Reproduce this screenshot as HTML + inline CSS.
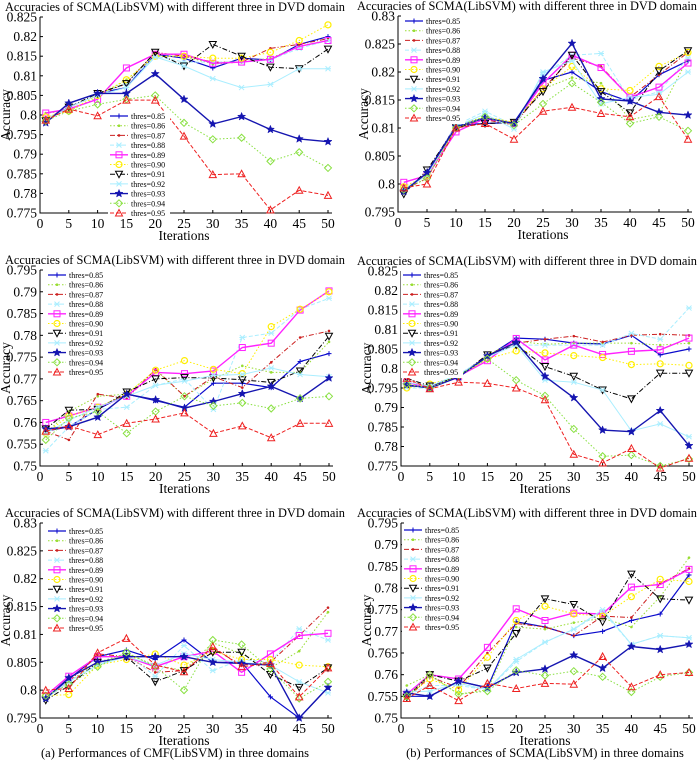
<!DOCTYPE html>
<html><head><meta charset="utf-8"><style>
html,body{margin:0;padding:0;background:#fff;}
svg{display:block;font-family:"Liberation Serif",serif;}
</style></head><body>
<svg id="fig" width="700" height="764" viewBox="0 0 700 764" xmlns="http://www.w3.org/2000/svg">
<text x="175" y="757" text-anchor="middle" font-size="12.5">(a) Performances of CMF(LibSVM) in three domains</text>
<text x="545" y="757" text-anchor="middle" font-size="12.5">(b) Performances of SCMA(LibSVM) in three domains</text>
</svg>
<script>
const iterations = [1,5,10,15,20,25,30,35,40,45,50];
const seriesNames = ["thres=0.85","thres=0.86","thres=0.87","thres=0.88","thres=0.89","thres=0.90","thres=0.91","thres=0.92","thres=0.93","thres=0.94","thres=0.95"];
const xTicks = [0,5,10,15,20,25,30,35,40,45,50];
const ticksA = [0.775,0.78,0.785,0.79,0.795,0.8,0.805,0.81,0.815,0.82,0.825];
const ticksB = [0.795,0.8,0.805,0.81,0.815,0.82,0.825,0.83];
const ticksC = [0.75,0.755,0.76,0.765,0.77,0.775,0.78,0.785,0.79,0.795];
const ticksD = [0.775,0.78,0.785,0.79,0.795,0.8,0.805,0.81,0.815,0.82,0.825];
const ticksE = [0.795,0.8,0.805,0.81,0.815,0.82,0.825,0.83];
const ticksF = [0.75,0.755,0.76,0.765,0.77,0.775,0.78,0.785,0.79,0.795];
const valuesA = [
[0.798,0.803,0.8055,0.807,0.8155,0.8145,0.812,0.8145,0.814,0.818,0.820],
[0.8005,0.801,0.8045,0.809,0.815,0.815,0.813,0.8135,0.8145,0.8175,0.819],
[0.799,0.802,0.805,0.808,0.816,0.815,0.8135,0.8135,0.817,0.818,0.8195],
[0.799,0.802,0.805,0.808,0.815,0.8135,0.8135,0.8135,0.814,0.817,0.819],
[0.8005,0.8015,0.804,0.812,0.8155,0.8155,0.8132,0.8135,0.8142,0.8175,0.819],
[0.7995,0.801,0.805,0.809,0.815,0.815,0.8145,0.8145,0.816,0.819,0.823],
[0.7985,0.802,0.8055,0.808,0.816,0.8125,0.818,0.815,0.8122,0.8118,0.8168],
[0.7985,0.802,0.805,0.807,0.8148,0.8125,0.8093,0.807,0.8078,0.8118,0.8118],
[0.798,0.803,0.8055,0.8055,0.8105,0.804,0.7977,0.7996,0.7963,0.7939,0.7932],
[0.7985,0.801,0.8027,0.804,0.805,0.798,0.7938,0.7942,0.7882,0.7905,0.7865],
[0.7987,0.8015,0.7998,0.8038,0.8038,0.7946,0.7848,0.785,0.7758,0.7808,0.7795]];
const valuesB = [
[0.7985,0.802,0.8105,0.8108,0.811,0.8185,0.820,0.8165,0.8147,0.8195,0.822],
[0.799,0.8015,0.8105,0.812,0.811,0.817,0.819,0.818,0.8115,0.8125,0.8225],
[0.799,0.801,0.810,0.8115,0.8105,0.817,0.8225,0.821,0.8155,0.8195,0.8235],
[0.799,0.802,0.8105,0.813,0.8105,0.8195,0.823,0.8233,0.815,0.8165,0.8225],
[0.8003,0.8015,0.8093,0.8117,0.8108,0.818,0.823,0.8208,0.8155,0.8173,0.8216],
[0.7995,0.8015,0.810,0.812,0.811,0.817,0.821,0.817,0.8167,0.821,0.8235],
[0.7982,0.8025,0.8102,0.8108,0.811,0.8165,0.823,0.8165,0.8127,0.8202,0.8238],
[0.799,0.8015,0.8103,0.8125,0.8098,0.820,0.822,0.8143,0.8155,0.816,0.820],
[0.7987,0.802,0.8102,0.8118,0.8108,0.8188,0.8251,0.8152,0.8148,0.8128,0.8123],
[0.799,0.801,0.810,0.812,0.8105,0.8143,0.818,0.8146,0.8108,0.812,0.8095],
[0.7993,0.800,0.810,0.8108,0.808,0.813,0.8137,0.8126,0.812,0.8156,0.808]];
const valuesC = [
[0.758,0.759,0.763,0.7665,0.765,0.7635,0.769,0.769,0.768,0.774,0.7758],
[0.7575,0.7625,0.766,0.7665,0.772,0.766,0.770,0.773,0.7715,0.7715,0.7785],
[0.758,0.756,0.7665,0.7655,0.7722,0.766,0.7705,0.768,0.7738,0.7795,0.781],
[0.7535,0.759,0.763,0.7635,0.7685,0.770,0.763,0.7795,0.7805,0.786,0.7885],
[0.760,0.7615,0.7635,0.766,0.7715,0.7712,0.7718,0.7772,0.7782,0.7858,0.7902],
[0.7575,0.7615,0.7635,0.7665,0.772,0.7742,0.7722,0.7712,0.782,0.786,0.790],
[0.7585,0.7628,0.763,0.767,0.770,0.7703,0.7702,0.7698,0.7692,0.7718,0.7798],
[0.7575,0.7605,0.7635,0.766,0.7685,0.7695,0.7708,0.771,0.7725,0.771,0.7705],
[0.7585,0.759,0.7612,0.7665,0.7652,0.7633,0.7648,0.7666,0.7683,0.7655,0.7702],
[0.756,0.761,0.7625,0.7575,0.7625,0.766,0.7638,0.7645,0.7632,0.7655,0.766],
[0.758,0.7592,0.7572,0.7598,0.7608,0.7622,0.7575,0.7592,0.7565,0.7598,0.7598]];
const valuesD = [
[0.7955,0.7955,0.7978,0.803,0.8078,0.8075,0.8065,0.8063,0.8085,0.8035,0.805],
[0.7965,0.795,0.798,0.8035,0.807,0.8062,0.8065,0.8065,0.8065,0.806,0.8065],
[0.797,0.795,0.798,0.8035,0.8065,0.8075,0.8083,0.8068,0.8085,0.8088,0.8085],
[0.795,0.795,0.7985,0.803,0.806,0.806,0.806,0.806,0.809,0.8075,0.8155],
[0.7965,0.795,0.798,0.802,0.8077,0.8022,0.806,0.8036,0.8044,0.8048,0.8078],
[0.795,0.796,0.798,0.8025,0.8045,0.804,0.8033,0.8028,0.801,0.8012,0.8008],
[0.7975,0.7955,0.798,0.8035,0.806,0.8005,0.798,0.7945,0.7922,0.7988,0.7988],
[0.7965,0.7955,0.7985,0.803,0.806,0.797,0.7965,0.7945,0.784,0.7858,0.7825],
[0.7958,0.795,0.7978,0.8032,0.8067,0.798,0.7925,0.7842,0.7838,0.7892,0.7802],
[0.796,0.795,0.7982,0.8025,0.797,0.793,0.7845,0.7775,0.7778,0.775,0.7768],
[0.7975,0.7948,0.7965,0.7962,0.795,0.792,0.778,0.7758,0.7795,0.7745,0.777]];
const valuesE = [
[0.7985,0.802,0.806,0.8072,0.8055,0.809,0.805,0.805,0.7988,0.795,0.8005],
[0.7985,0.8015,0.805,0.8065,0.8045,0.8035,0.8085,0.8065,0.804,0.807,0.814],
[0.7985,0.8015,0.8065,0.806,0.8032,0.8035,0.8075,0.8045,0.805,0.8098,0.8148],
[0.7985,0.8015,0.8045,0.8065,0.8025,0.808,0.8035,0.8055,0.805,0.811,0.809],
[0.799,0.8025,0.806,0.806,0.8042,0.806,0.807,0.8032,0.8065,0.8098,0.8102],
[0.799,0.7992,0.8045,0.8055,0.8065,0.8045,0.807,0.8055,0.8055,0.8045,0.8042],
[0.7982,0.8008,0.805,0.806,0.8015,0.8035,0.8068,0.8068,0.8028,0.8005,0.804],
[0.7985,0.8015,0.8045,0.806,0.8045,0.8065,0.8055,0.805,0.8045,0.8015,0.7995],
[0.7985,0.8022,0.805,0.806,0.806,0.806,0.805,0.8048,0.8045,0.795,0.8005],
[0.799,0.801,0.8042,0.8068,0.8042,0.800,0.809,0.8082,0.8038,0.7985,0.8015],
[0.800,0.8003,0.8067,0.8093,0.8045,0.8033,0.8078,0.8042,0.8048,0.7988,0.804]];
const valuesF = [
[0.755,0.755,0.7585,0.757,0.7722,0.771,0.769,0.770,0.7725,0.774,0.783],
[0.7575,0.760,0.7555,0.7565,0.771,0.7705,0.772,0.773,0.771,0.778,0.787],
[0.7545,0.7595,0.757,0.765,0.7718,0.771,0.769,0.7735,0.7732,0.781,0.7845],
[0.7555,0.7575,0.7575,0.7565,0.763,0.7675,0.7705,0.7745,0.767,0.769,0.7685],
[0.7555,0.760,0.759,0.7663,0.7752,0.7725,0.7742,0.774,0.7802,0.7808,0.7843],
[0.755,0.759,0.7565,0.764,0.7725,0.7758,0.774,0.7735,0.778,0.782,0.7815],
[0.7548,0.760,0.7585,0.7615,0.7695,0.7775,0.7762,0.7722,0.7832,0.7775,0.7772],
[0.756,0.7562,0.758,0.7565,0.7635,0.7675,0.7705,0.775,0.767,0.769,0.7685],
[0.7558,0.755,0.7585,0.757,0.7605,0.7613,0.7645,0.7615,0.7665,0.7658,0.767],
[0.755,0.760,0.7555,0.7562,0.761,0.7598,0.7608,0.7595,0.756,0.7595,0.7605],
[0.7545,0.7575,0.754,0.758,0.7568,0.758,0.7578,0.7642,0.7572,0.760,0.7605]];

const NS="http://www.w3.org/2000/svg";
const svg=document.getElementById('fig');
const styles=[
 {c:"#0a0acc",d:"",w:1.2,m:"plus"},
 {c:"#99dd33",d:"1.5,2",w:1,m:"dot"},
 {c:"#cc2020",d:"5,2,1,2",w:1,m:"dot"},
 {c:"#aaeeff",d:"4,2",w:1,m:"x"},
 {c:"#ff22ff",d:"",w:1.4,m:"square"},
 {c:"#ffee00",d:"1.5,2",w:1,m:"circle"},
 {c:"#000000",d:"5,2,1,2",w:1,m:"tdown"},
 {c:"#aaeeff",d:"",w:1,m:"x"},
 {c:"#1515b0",d:"",w:1.4,m:"star"},
 {c:"#88e040",d:"1.5,2",w:1,m:"diamond"},
 {c:"#ee2020",d:"4,2",w:1,m:"tup"}];
function el(tag,attrs,parent){const e=document.createElementNS(NS,tag);for(const k in attrs)e.setAttribute(k,attrs[k]);(parent||svg).appendChild(e);return e;}
function marker(g,type,x,y,c){
 let e;
 if(type==="square")e=el('rect',{x:x-3,y:y-3,width:6,height:6,fill:"none",stroke:c,"stroke-width":1},g);
 else if(type==="circle")e=el('circle',{cx:x,cy:y,r:3,fill:"none",stroke:c,"stroke-width":1.2},g);
 else if(type==="diamond")e=el('polygon',{points:`${x},${y-3.5} ${x+3.5},${y} ${x},${y+3.5} ${x-3.5},${y}`,fill:"none",stroke:c,"stroke-width":1},g);
 else if(type==="tdown")e=el('polygon',{points:`${x-3.5},${y-3} ${x+3.5},${y-3} ${x},${y+3.5}`,fill:"none",stroke:c,"stroke-width":1},g);
 else if(type==="tup")e=el('polygon',{points:`${x-3.5},${y+3} ${x+3.5},${y+3} ${x},${y-3.5}`,fill:"none",stroke:c,"stroke-width":1},g);
 else if(type==="plus")e=el('path',{d:`M${x-2.5},${y}H${x+2.5}M${x},${y-2.5}V${y+2.5}`,stroke:c,"stroke-width":1},g);
 else if(type==="x")e=el('path',{d:`M${x-2.5},${y-2.5}L${x+2.5},${y+2.5}M${x-2.5},${y+2.5}L${x+2.5},${y-2.5}M${x-3},${y}H${x+3}`,stroke:c,"stroke-width":1},g);
 else if(type==="star"){let p=[];for(let i=0;i<10;i++){const r=i%2?1.8:4.2,a=-Math.PI/2+i*Math.PI/5;p.push((x+r*Math.cos(a)).toFixed(1)+","+(y+r*Math.sin(a)).toFixed(1));}e=el('polygon',{points:p.join(' '),fill:c,stroke:c,"stroke-width":0.5},g);}
 else e=el('circle',{cx:x,cy:y,r:1.3,fill:c},g);
 
 
}
function panel(id,L,R,T,B,ticks,values,leg,tx0){
 const ymin=ticks[0],ymax=ticks[ticks.length-1];
 const xs=v=>L+(v/50)*(R-L);
 const ys=v=>B-(v-ymin)/(ymax-ymin)*(B-T);
 const g=el('g',{});
 
 
 const t=el('text',{x:tx0,y:T-6,"font-size":"12.5",textLength:"340",lengthAdjust:"spacingAndGlyphs"},g);t.textContent="Accuracies of SCMA(LibSVM) with different three in DVD domain";
 
 
 const ax=el('path',{d:`M${L},${T}V${B}H${R+4}`,fill:"none",stroke:"#000","stroke-width":1},g);
 
 
 xTicks.forEach(v=>{const x=xs(v);el('line',{x1:x,x2:x,y1:B,y2:B-3,stroke:"#000"},g);
  const tx=el('text',{x:x,y:B+15,"text-anchor":"middle","font-size":"13.5"},g);tx.textContent=v;
  
  });
 ticks.forEach(v=>{const y=ys(v);el('line',{x1:L,x2:L+3,y1:y,y2:y,stroke:"#000"},g);
  const ty=el('text',{x:L-3,y:y+4.5,"text-anchor":"end","font-size":"13.5"},g);ty.textContent=String(+v.toFixed(3));
  
  });
 const xl=el('text',{x:(L+R)/2,y:B+27,"text-anchor":"middle","font-size":"13.5"},g);xl.textContent="Iterations";
 
 
 const yl=el('text',{x:0,y:0,"text-anchor":"middle","font-size":"13.5",transform:`translate(${L-30},${(T+B)/2}) rotate(-90)`},g);yl.textContent="Accuracy";
 
 
 values.forEach((vals,i)=>{const s=styles[i];
  const sg=el('g',{},g);
  
  
  const pts=vals.map((v,j)=>xs(iterations[j]).toFixed(1)+","+ys(v).toFixed(1)).join(' ');
  el('polyline',{points:pts,fill:"none",stroke:s.c,"stroke-width":s.w,"stroke-dasharray":s.d},sg);
  vals.forEach((v,j)=>marker(sg,s.m,xs(iterations[j]),ys(v),s.c));
 });
 const lg=el('g',{},g);
 
 
 el('rect',{x:leg[0],y:leg[1],width:62,height:108,fill:"#fff",stroke:"none"},lg);
 seriesNames.forEach((n,i)=>{const s=styles[i];const y=leg[1]+5+i*9.7;
  const le=el('g',{},lg);
  
  
  el('line',{x1:leg[0]+2,x2:leg[0]+20,y1:y,y2:y,stroke:s.c,"stroke-width":s.w,"stroke-dasharray":s.d},le);
  marker(le,s.m,leg[0]+11,y,s.c);
  const lt=el('text',{x:leg[0]+23,y:y+3,"font-size":"8"},le);lt.textContent=n;
 });
}
panel('a',40,328,17,213,ticksA,valuesA,[108,111],5);
panel('b',398,688,16,212,ticksB,valuesB,[403,16],357);
panel('c',40,329,270,466,ticksC,valuesC,[46,270],5);
panel('d',401,689,271,466,ticksD,valuesD,[401,270],357);
panel('e',40,328,523,718,ticksE,valuesE,[46,526],5);
panel('f',401,689,523,718,ticksF,valuesF,[402,525],357);
</script>
</body></html>
